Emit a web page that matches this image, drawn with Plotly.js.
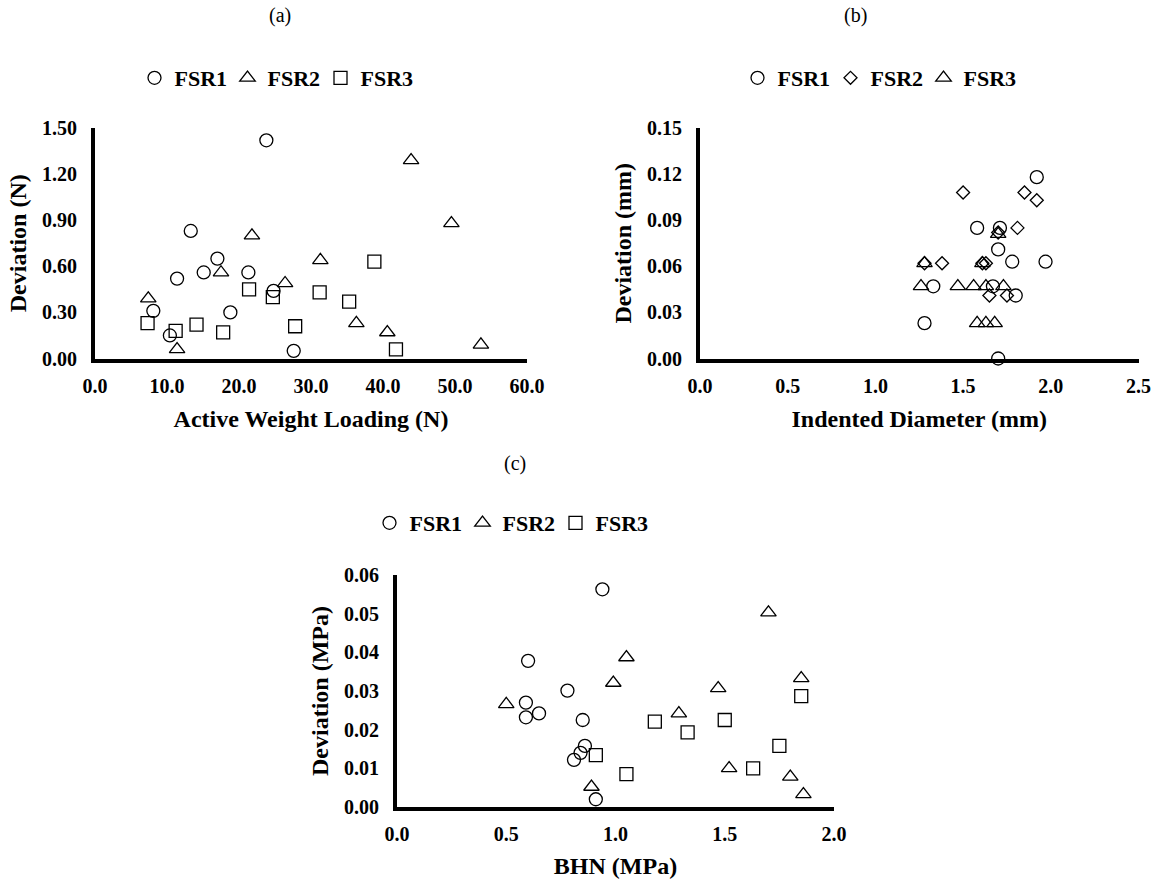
<!DOCTYPE html>
<html>
<head>
<meta charset="utf-8">
<script src="https://cdn.plot.ly/plotly-3.0.1.min.js"></script>
<style>html,body{margin:0;padding:0;background:#fff;}#chart{width:1159px;height:879px;}</style>
</head>
<body>
<div id="chart"></div>
<script>
// ---------- Panel (a): Active Weight Loading (N) vs Deviation (N) ----------
const aFSR1_x = [23.8, 13.3, 17.0, 15.1, 11.4, 21.3, 24.8, 8.1, 18.8, 10.4, 27.6];
const aFSR1_y = [1.42, 0.83, 0.65, 0.56, 0.52, 0.56, 0.44, 0.31, 0.30, 0.15, 0.05];
const aFSR2_x = [43.9, 49.5, 21.8, 31.3, 17.5, 26.4, 7.4, 36.3, 40.6, 11.4, 53.6];
const aFSR2_y = [1.29, 0.88, 0.80, 0.64, 0.56, 0.49, 0.39, 0.23, 0.17, 0.06, 0.09];
const aFSR3_x = [38.8, 21.4, 31.2, 24.7, 35.3, 7.3, 14.1, 11.2, 17.8, 27.8, 41.8];
const aFSR3_y = [0.63, 0.45, 0.43, 0.40, 0.37, 0.23, 0.22, 0.18, 0.17, 0.21, 0.06];

// ---------- Panel (b): Indented Diameter (mm) vs Deviation (mm) ----------
const bFSR1_x = [1.92, 1.58, 1.71, 1.70, 1.78, 1.97, 1.33, 1.67, 1.80, 1.28, 1.70];
const bFSR1_y = [0.118, 0.085, 0.085, 0.071, 0.063, 0.063, 0.047, 0.047, 0.041, 0.023, 0.000];
const bFSR2_x = [1.50, 1.85, 1.92, 1.81, 1.70, 1.38, 1.28, 1.61, 1.63, 1.65, 1.75];
const bFSR2_y = [0.108, 0.108, 0.103, 0.085, 0.082, 0.062, 0.062, 0.062, 0.062, 0.041, 0.041];
const bFSR3_x = [1.70, 1.28, 1.61, 1.26, 1.47, 1.56, 1.63, 1.73, 1.58, 1.63, 1.68];
const bFSR3_y = [0.081, 0.062, 0.062, 0.047, 0.047, 0.047, 0.047, 0.047, 0.023, 0.023, 0.023];

// ---------- Panel (c): BHN (MPa) vs Deviation (MPa) ----------
const cFSR1_x = [0.94, 0.60, 0.78, 0.59, 0.59, 0.65, 0.85, 0.86, 0.84, 0.81, 0.91];
const cFSR1_y = [0.0563, 0.0378, 0.0301, 0.0270, 0.0232, 0.0242, 0.0225, 0.0158, 0.0140, 0.0122, 0.0020];
const cFSR2_x = [0.50, 0.89, 0.99, 1.05, 1.29, 1.47, 1.52, 1.70, 1.80, 1.85, 1.86];
const cFSR2_y = [0.0266, 0.0052, 0.0321, 0.0387, 0.0242, 0.0307, 0.0100, 0.0503, 0.0078, 0.0333, 0.0033];
const cFSR3_x = [0.91, 1.05, 1.18, 1.33, 1.50, 1.63, 1.75, 1.85];
const cFSR3_y = [0.0134, 0.0085, 0.0221, 0.0193, 0.0225, 0.0100, 0.0158, 0.0287];

const seriesNames = ['FSR1', 'FSR2', 'FSR3'];
const panelLabels = ['(a)', '(b)', '(c)'];
const xTitles = ['Active Weight Loading (N)', 'Indented Diameter (mm)', 'BHN (MPa)'];
const yTitles = ['Deviation (N)', 'Deviation (mm)', 'Deviation (MPa)'];

const FONT = '"Liberation Serif", "Times New Roman", Times, serif';

function mk(x, y, name, symbol, size, xa, ya, leg) {
  return {
    type: 'scatter', mode: 'markers', x: x, y: y, name: name,
    xaxis: xa, yaxis: ya, legend: leg, cliponaxis: false,
    marker: {symbol: symbol, size: size, color: 'black', line: {color: 'black', width: 1.3}}
  };
}

const traces = [
  mk(aFSR1_x, aFSR1_y, seriesNames[0], 'circle-open', 13, 'x', 'y', 'legend'),
  mk(aFSR2_x, aFSR2_y, seriesNames[1], 'triangle-up-open', 13.5, 'x', 'y', 'legend'),
  mk(aFSR3_x, aFSR3_y, seriesNames[2], 'square-open', 13, 'x', 'y', 'legend'),
  mk(bFSR1_x, bFSR1_y, seriesNames[0], 'circle-open', 13, 'x2', 'y2', 'legend2'),
  mk(bFSR2_x, bFSR2_y, seriesNames[1], 'diamond-open', 10, 'x2', 'y2', 'legend2'),
  mk(bFSR3_x, bFSR3_y, seriesNames[2], 'triangle-up-open', 13.5, 'x2', 'y2', 'legend2'),
  mk(cFSR1_x, cFSR1_y, seriesNames[0], 'circle-open', 13, 'x3', 'y3', 'legend3'),
  mk(cFSR2_x, cFSR2_y, seriesNames[1], 'triangle-up-open', 13.5, 'x3', 'y3', 'legend3'),
  mk(cFSR3_x, cFSR3_y, seriesNames[2], 'square-open', 13, 'x3', 'y3', 'legend3')
];

function xax(domain, range, dtick, title, anchor) {
  return {
    domain: domain, range: range, dtick: dtick, tick0: 0, tickformat: '.1f', anchor: anchor,
    showline: true, linecolor: 'black', linewidth: 4, showgrid: false, zeroline: false,
    ticks: 'outside', ticklen: 6, tickcolor: 'rgba(0,0,0,0)',
    tickfont: {family: FONT, size: 20, color: 'black', weight: 'bold'},
    title: {text: '<b>' + title + '</b>', font: {family: FONT, size: 24, color: 'black'}, standoff: 16},
    automargin: false, fixedrange: true
  };
}
function yax(domain, range, dtick, title, anchor) {
  return {
    domain: domain, range: range, dtick: dtick, tick0: 0, tickformat: '.2f', anchor: anchor,
    showline: true, linecolor: 'black', linewidth: 4, showgrid: false, zeroline: false,
    ticks: 'outside', ticklen: 10, tickcolor: 'rgba(0,0,0,0)',
    tickfont: {family: FONT, size: 20, color: 'black', weight: 'bold'},
    title: {text: '<b>' + title + '</b>', font: {family: FONT, size: 24, color: 'black'}, standoff: 10},
    automargin: false, fixedrange: true
  };
}

const W = 1159, H = 879;
const legBase = {
  orientation: 'h', xanchor: 'center', yanchor: 'middle',
  font: {family: FONT, size: 22, color: 'black', weight: 'bold'},
  bgcolor: 'rgba(0,0,0,0)', itemwidth: 30, itemclick: false, itemdoubleclick: false,
  entrywidth: 48, entrywidthmode: 'pixels', tracegroupgap: 0
};

const layout = {
  width: W, height: H,
  margin: {l: 0, r: 0, t: 0, b: 0},
  paper_bgcolor: 'white', plot_bgcolor: 'white',
  showlegend: true,
  xaxis: xax([95 / W, 527 / W], [0, 60], 10, xTitles[0], 'y'),
  yaxis: yax([1 - 358.5 / H, 1 - 128 / H], [0, 1.5], 0.3, yTitles[0], 'x'),
  xaxis2: xax([700 / W, 1138.5 / W], [0, 2.5], 0.5, xTitles[1], 'y2'),
  yaxis2: yax([1 - 358.5 / H, 1 - 128 / H], [0, 0.15], 0.03, yTitles[1], 'x2'),
  xaxis3: xax([397 / W, 834 / W], [0, 2.0], 0.5, xTitles[2], 'y3'),
  yaxis3: yax([1 - 807 / H, 1 - 575 / H], [0, 0.06], 0.01, yTitles[2], 'x3'),
  legend: Object.assign({}, legBase, {x: 274 / W, y: 1 - 78 / H}),
  legend2: Object.assign({}, legBase, {x: 877 / W, y: 1 - 78 / H}),
  legend3: Object.assign({}, legBase, {x: 509 / W, y: 1 - 523 / H}),
  annotations: [
    {text: panelLabels[0], x: 280 / W, y: 1 - 15 / H, xref: 'paper', yref: 'paper', showarrow: false,
     font: {family: FONT, size: 20, color: 'black'}, xanchor: 'center', yanchor: 'middle'},
    {text: panelLabels[1], x: 855 / W, y: 1 - 15 / H, xref: 'paper', yref: 'paper', showarrow: false,
     font: {family: FONT, size: 20, color: 'black'}, xanchor: 'center', yanchor: 'middle'},
    {text: panelLabels[2], x: 515 / W, y: 1 - 463 / H, xref: 'paper', yref: 'paper', showarrow: false,
     font: {family: FONT, size: 20, color: 'black'}, xanchor: 'center', yanchor: 'middle'}
  ]
};

Plotly.newPlot('chart', traces, layout, {displayModeBar: false, staticPlot: true});
</script>
</body>
</html>
